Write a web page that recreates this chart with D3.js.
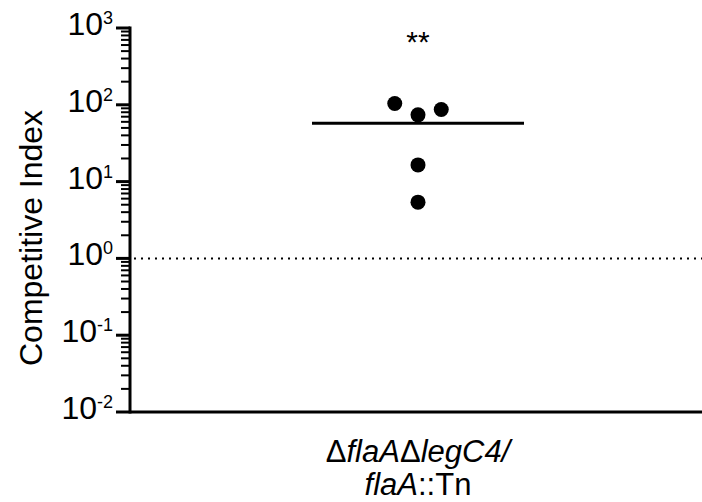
<!DOCTYPE html>
<html>
<head>
<meta charset="utf-8">
<script src="https://cdn.jsdelivr.net/npm/d3@7"></script>
<style>
    body { margin: 0; background: #fff; }
    svg text { font-family: Arial, "Liberation Sans", sans-serif; fill: #000; }
</style>
</head>
<body>
<svg class="chart" width="702" height="502"></svg>
<script>

// data
const groupNames = ['ΔflaAΔlegC4/flaA::Tn'];
const ciValues = [104, 74, 87, 16.5, 5.4];
const yDecades = [-2, -1, 0, 1, 2, 3];
const referenceLevel = 1;
const significance = '**';

const WIDTH = 702;
const HEIGHT = 502;
const AXIS_LEFT = 130;
const AXIS_BOTTOM = 412;
const AXIS_TOP = 28;
const DOT_R = 7.5;

const svg = d3.select('svg.chart');

const y = d3.scaleLog()
    .domain([0.01, 1000])
    .range([AXIS_BOTTOM, AXIS_TOP]);

const x = d3.scalePoint()
    .domain(groupNames)
    .range([AXIS_LEFT, 706])
    .padding(0.5);

// reference line at CI = 1
svg.append('line')
    .attr('x1', AXIS_LEFT + 4)
    .attr('x2', WIDTH)
    .attr('y1', y(referenceLevel))
    .attr('y2', y(referenceLevel))
    .attr('stroke', '#000')
    .attr('stroke-width', 2)
    .attr('stroke-dasharray', '2,5');

// y axis with log minor ticks
var minorTicks = [];
for (var d = -2; d < 3; d++) {
    for (var m = 2; m <= 9; m++) {
        minorTicks.push(m * Math.pow(10, d));
    }
}

var yAxis = svg.append('g')
    .attr('transform', 'translate(' + AXIS_LEFT + ',0)');

yAxis.selectAll('line.minor')
    .data(minorTicks)
    .enter().append('line')
        .attr('class', 'minor')
        .attr('x1', -9)
        .attr('x2', 0)
        .attr('y1', v => y(v))
        .attr('y2', v => y(v))
        .attr('stroke', '#000')
        .attr('stroke-width', 2);

yAxis.selectAll('line.major')
    .data(yDecades)
    .enter().append('line')
        .attr('class', 'major')
        .attr('x1', -14)
        .attr('x2', 0)
        .attr('y1', e => y(Math.pow(10, e)))
        .attr('y2', e => y(Math.pow(10, e)))
        .attr('stroke', '#000')
        .attr('stroke-width', 3);

yAxis.append('line')
    .attr('x1', 0)
    .attr('x2', 0)
    .attr('y1', AXIS_TOP - 1.5)
    .attr('y2', AXIS_BOTTOM + 1.5)
    .attr('stroke', '#000')
    .attr('stroke-width', 3);

var labels = yAxis.selectAll('text.tick')
    .data(yDecades)
    .enter().append('text')
        .attr('class', 'tick')
        .attr('x', -17)
        .attr('y', e => y(Math.pow(10, e)) + 7)
        .attr('text-anchor', 'end')
        .style('font-size', '32px');

labels.append('tspan').text('10');
labels.append('tspan')
    .attr('dy', -11)
    .style('font-size', '18px')
    .text(e => e < 0 ? '-' + (-e) : '' + e);

// x axis
svg.append('line')
    .attr('x1', AXIS_LEFT)
    .attr('x2', WIDTH)
    .attr('y1', AXIS_BOTTOM)
    .attr('y2', AXIS_BOTTOM)
    .attr('stroke', '#000')
    .attr('stroke-width', 3);

// axis titles
svg.append('text')
    .attr('transform', 'translate(42,366) rotate(-90)')
    .attr('text-anchor', 'start')
    .style('font-size', '32px')
    .text('Competitive Index');

var cx = x(groupNames[0]);
var xLabel = svg.append('text')
    .attr('text-anchor', 'middle')
    .style('font-size', '31px');

var line1 = xLabel.append('tspan')
    .attr('x', cx)
    .attr('y', 462);
line1.append('tspan').text('Δ');
line1.append('tspan').style('font-style', 'italic').text('flaA');
line1.append('tspan').text('Δ');
line1.append('tspan').style('font-style', 'italic').text('legC4/');

var line2 = xLabel.append('tspan')
    .attr('x', cx)
    .attr('y', 495);
line2.append('tspan').style('font-style', 'italic').text('flaA');
line2.append('tspan').text('::Tn');

// simple column scatter: step sideways until a dot does not overlap
function swarm(values) {
    var placed = [];
    var step = DOT_R * 3.1;
    values.slice().sort((a, b) => a - b).forEach(v => {
        var py = y(v);
        var offsets = [0];
        for (var k = 1; k < 6; k++) { offsets.push(k * step, -k * step); }
        for (var i = 0; i < offsets.length; i++) {
            var hit = placed.some(p => Math.abs(p.dx - offsets[i]) < DOT_R * 2 && Math.abs(p.py - py) < DOT_R * 2);
            if (!hit) {
                placed.push({ value: v, py: py, dx: offsets[i] });
                break;
            }
        }
    });
    return placed;
}

svg.selectAll('circle.dot')
    .data(swarm(ciValues))
    .enter().append('circle')
        .attr('class', 'dot')
        .attr('cx', p => cx + p.dx)
        .attr('cy', p => p.py)
        .attr('r', DOT_R)
        .attr('fill', '#000');

// mean line
var meanValue = d3.mean(ciValues);
svg.append('line')
    .attr('x1', cx - 106)
    .attr('x2', cx + 106)
    .attr('y1', y(meanValue))
    .attr('y2', y(meanValue))
    .attr('stroke', '#000')
    .attr('stroke-width', 3);

svg.append('text')
    .attr('x', cx)
    .attr('y', 52)
    .attr('text-anchor', 'middle')
    .style('font-size', '30px')
    .text(significance);

</script>
</body>
</html>
